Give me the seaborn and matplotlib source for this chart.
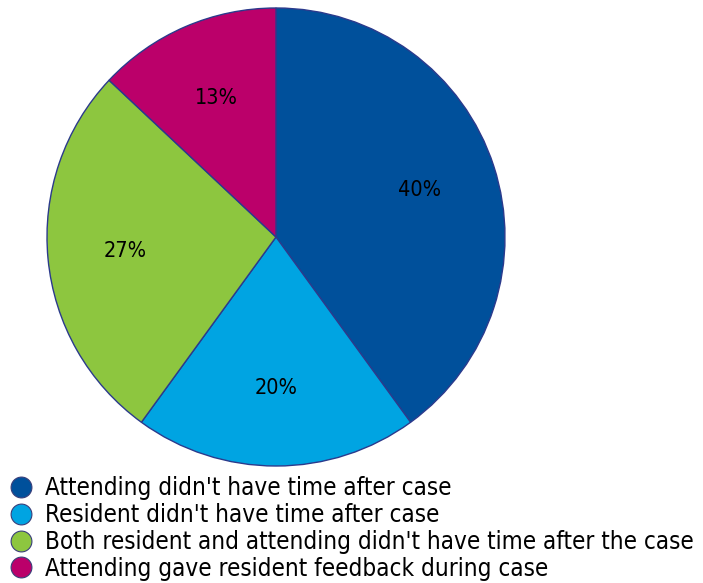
import matplotlib
matplotlib.use("Agg")
import matplotlib.pyplot as plt
from matplotlib.lines import Line2D
import seaborn as sns

categories = [
    "Attending didn't have time after case",
    "Resident didn't have time after case",
    "Both resident and attending didn't have time after the case",
    "Attending gave resident feedback during case",
]
values = [40, 20, 27, 13]
colors = ["#00509B", "#00A4E2", "#8DC63F", "#BB006A"]

sns.set_theme(style="white")
plt.rcParams["font.family"] = ["DejaVu Sans"]
plt.rcParams["font.stretch"] = "condensed"
plt.rcParams["text.color"] = "black"

W, H = 703, 583
fig = plt.figure(figsize=(W / 100, H / 100), dpi=100)
cx, cy, R = 276, 237, 229
ax = fig.add_axes([(cx - R) / W, (H - cy - R) / H, 2 * R / W, 2 * R / H])
wedges, texts, autotexts = ax.pie(
    values,
    colors=colors,
    startangle=90,
    counterclock=False,
    autopct="%d%%",
    pctdistance=0.66,
    radius=1,
    wedgeprops=dict(edgecolor="#2B3A8C", linewidth=1.0),
    textprops=dict(fontsize=15.5, color="black", stretch="condensed"),
)
ax.set_xlim(-1, 1)
ax.set_ylim(-1, 1)
ax.set_aspect("equal")
ax.axis("off")

handles = [
    Line2D([0], [0], marker="o", linestyle="none", markersize=15,
           markerfacecolor=c, markeredgecolor="#3A3F7A", markeredgewidth=0.8)
    for c in colors
]
leg = fig.legend(
    handles, categories, loc="upper left",
    bbox_to_anchor=(0.0 / W, 1 - 469 / H),
    frameon=False, borderpad=0, borderaxespad=0.3,
    handletextpad=0.45, handlelength=1.1, labelspacing=0.12,
    prop=dict(size=17.4, stretch="condensed"),
)
for t in leg.get_texts():
    t.set_color("black")
fig.savefig("out.png", dpi=100, facecolor="white")
